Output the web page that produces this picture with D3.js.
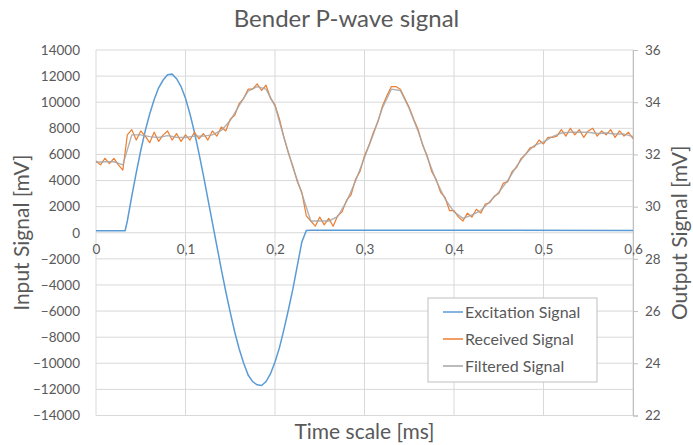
<!DOCTYPE html>
<html>
<head>
<meta charset="utf-8">
<script src="https://cdn.jsdelivr.net/npm/d3@7"></script>
<style>
  body { margin: 0; background: #fff; }
  text { font-family: Lato, "Open Sans", sans-serif; fill: #595959; }
</style>
</head>
<body>
<script>
// time axis (ms) and the three series
const excitationTime = [0, 0.03, 0.0325, 0.035, 0.04, 0.045, 0.05, 0.055, 0.06, 0.065, 0.07, 0.075, 0.08, 0.085,
  0.09, 0.095, 0.1, 0.105, 0.11, 0.115, 0.12, 0.125, 0.13, 0.135, 0.14, 0.145, 0.15, 0.155, 0.16, 0.165,
  0.17, 0.175, 0.18, 0.185, 0.19, 0.195, 0.2, 0.205, 0.21, 0.215, 0.22, 0.225, 0.23, 0.235, 0.24, 0.6];
const excitationValues = [150, 150, 150, 900, 2800, 4600, 6300, 7800, 9100, 10200, 11100, 11700, 12100, 12150,
  11800, 11200, 10300, 9100, 7700, 6100, 4400, 2600, 800, -1000, -2800, -4500, -6100, -7600, -8900, -10000,
  -10900, -11400, -11650, -11700, -11400, -10800, -9900, -8800, -7400, -5900, -4300, -2500, -700, 180, 200, 180];

// received signal, every 0.005 ms
const receivedTime = d3.range(0, 121).map(i => i / 200);
const receivedValues = [
  31.75, 31.6, 31.85, 31.65, 31.85, 31.6, 31.4, 32.75, 32.95, 32.55,
  32.9, 32.7, 32.45, 32.85, 32.5, 32.75, 32.9, 32.55, 32.8, 32.5,
  32.75, 32.55, 32.85, 32.6, 32.8, 32.55, 32.9, 32.7, 33.05, 32.9,
  33.35, 33.5, 33.95, 34.15, 34.5, 34.5, 34.7, 34.45, 34.65, 34.15,
  33.9, 33.35, 32.65, 32.05, 31.55, 30.95, 30.55, 29.65, 29.45, 29.25,
  29.6, 29.3, 29.55, 29.25, 29.65, 29.8, 30.25, 30.45, 31.05, 31.35,
  31.95, 32.35, 32.85, 33.25, 33.85, 34.25, 34.6, 34.6, 34.5, 34.15,
  33.8, 33.35, 32.95, 32.35, 31.95, 31.35, 31.05, 30.55, 30.35, 29.85,
  29.85, 29.6, 29.45, 29.75, 29.6, 29.9, 29.75, 30.1, 30.15, 30.4,
  30.5, 30.9, 30.95, 31.35, 31.5, 31.85, 32.0, 32.25, 32.3, 32.55,
  32.4, 32.65, 32.65, 32.7, 32.95, 32.7, 33.0, 32.75, 32.95, 32.65,
  32.9, 33.0, 32.7, 32.9, 32.75, 32.95, 32.65, 32.9, 32.7, 32.85, 32.6];

// filtered signal (smoothed received), every 0.01 ms
const filteredTime = d3.range(0, 61).map(i => i / 100);
const filteredValues = [
  31.7, 31.72, 31.72, 31.6, 32.75, 32.75, 32.68, 32.65, 32.72, 32.66,
  32.65, 32.7, 32.7, 32.75, 32.92, 33.3, 33.88, 34.42, 34.6, 34.5,
  33.85, 32.65, 31.5, 30.5, 29.45, 29.45, 29.45, 29.62, 30.2, 30.98,
  31.88, 32.78, 33.78, 34.5, 34.45, 33.75, 32.88, 31.9, 31.0, 30.3,
  29.8, 29.55, 29.68, 29.85, 30.2, 30.55, 31.0, 31.55, 32.02, 32.35,
  32.48, 32.68, 32.82, 32.85, 32.85, 32.85, 32.8, 32.82, 32.78, 32.78, 32.68];

const xTicks = [0, 0.1, 0.2, 0.3, 0.4, 0.5, 0.6];
const leftTicks = d3.range(-14000, 14001, 2000);
const rightTicks = [22, 24, 26, 28, 30, 32, 34, 36];
const legendLabels = ["Excitation Signal", "Received Signal", "Filtered Signal"];
const colors = ["#5b9bd5", "#ed7d31", "#a5a5a5"];

const w = 693, h = 445;
const plotLeft = 96, plotRight = 633, plotTop = 50, plotBottom = 415.5;

const svg = d3.select("body").append("svg").attr("width", w).attr("height", h);

const x = d3.scaleLinear().domain([0, 0.6]).range([plotLeft, plotRight]);
const yL = d3.scaleLinear().domain([-14000, 14000]).range([plotBottom, plotTop]);
const yR = d3.scaleLinear().domain([22, 36]).range([plotBottom, plotTop]);

// gridlines
svg.append("g").selectAll("line").data(leftTicks).join("line")
  .attr("x1", plotLeft).attr("x2", plotRight)
  .attr("y1", d => yL(d)).attr("y2", d => yL(d))
  .attr("stroke", "#d9d9d9").attr("stroke-width", 1);
svg.append("g").selectAll("line").data(xTicks).join("line")
  .attr("x1", d => x(d)).attr("x2", d => x(d))
  .attr("y1", plotTop).attr("y2", plotBottom)
  .attr("stroke", "#d9d9d9").attr("stroke-width", 1);

// left axis labels
const gl = svg.append("g").attr("transform", `translate(${plotLeft},0)`)
  .call(d3.axisLeft(yL).tickValues(leftTicks).tickSize(0).tickPadding(16).tickFormat(d3.format("d")));
gl.select(".domain").remove();
gl.selectAll("text").style("font-size", "13.5px").style("font-family", "Lato").attr("fill", "#595959");

// right axis
const gr = svg.append("g").attr("transform", `translate(${plotRight},0)`)
  .call(d3.axisRight(yR).tickValues(rightTicks).tickSize(5).tickPadding(7));
gr.select(".domain").attr("stroke", "#bfbfbf");
gr.selectAll(".tick line").attr("stroke", "#bfbfbf");
gr.selectAll("text").style("font-size", "13.5px").style("font-family", "Lato").attr("fill", "#595959");

// x axis crossing at zero
const gx = svg.append("g").attr("transform", `translate(0,${yL(0)})`)
  .call(d3.axisBottom(x).tickValues(xTicks).tickSize(0).tickPadding(12)
    .tickFormat(d => d3.format(".1~f")(d).replace(".", ",")));
gx.select(".domain").remove();
gx.selectAll("text").style("font-size", "13.5px").style("font-family", "Lato").attr("fill", "#595959");

// series
const lineL = d3.line().x(d => x(d[0])).y(d => yL(d[1]));
const lineR = d3.line().x(d => x(d[0])).y(d => yR(d[1]));

svg.append("path").datum(d3.zip(excitationTime, excitationValues))
  .attr("d", lineL).attr("fill", "none").attr("stroke", colors[0]).attr("stroke-width", 1.5);
svg.append("path").datum(d3.zip(receivedTime, receivedValues))
  .attr("d", lineR).attr("fill", "none").attr("stroke", colors[1]).attr("stroke-width", 1.2)
  .attr("stroke-linejoin", "round");
svg.append("path").datum(d3.zip(filteredTime, filteredValues))
  .attr("d", lineR).attr("fill", "none").attr("stroke", colors[2]).attr("stroke-width", 1.4)
  .attr("stroke-opacity", 0.85).attr("stroke-linejoin", "round");

// titles
svg.append("text").attr("x", w / 2).attr("y", 27).attr("text-anchor", "middle")
  .style("font-size", "24px").text("Bender P-wave signal");
svg.append("text").attr("x", (plotLeft + plotRight) / 2).attr("y", 439).attr("text-anchor", "middle")
  .style("font-size", "21px").text("Time scale [ms]");
svg.append("text").attr("transform", `translate(29,${yL(0)}) rotate(-90)`).attr("text-anchor", "middle")
  .style("font-size", "21px").text("Input Signal [mV]");
svg.append("text").attr("transform", `translate(687,${yL(0)}) rotate(-90)`).attr("text-anchor", "middle")
  .style("font-size", "21px").text("Output Signal [mV]");

// legend
const lg = svg.append("g").attr("transform", "translate(428,298)");
lg.append("rect").attr("width", 169).attr("height", 84)
  .attr("fill", "#fff").attr("stroke", "#bfbfbf");
const item = lg.selectAll("g").data(legendLabels).join("g")
  .attr("transform", (d, i) => `translate(0,${14 + i * 27})`);
item.append("line").attr("x1", 15).attr("x2", 35).attr("y1", 0).attr("y2", 0)
  .attr("stroke", (d, i) => colors[i]).attr("stroke-width", 1.5);
item.append("text").attr("x", 37).attr("y", 5.5).style("font-size", "16px").text(d => d);
</script>
</body>
</html>
